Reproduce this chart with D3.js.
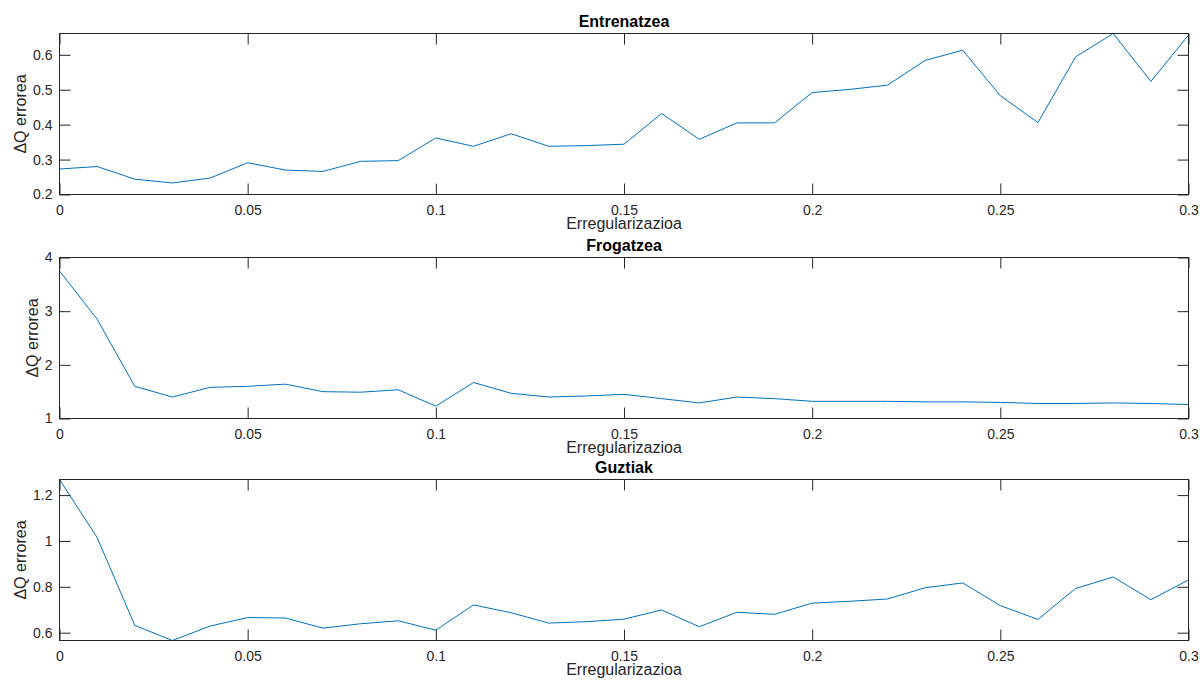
<!DOCTYPE html>
<html>
<head>
<meta charset="utf-8">
<script src="https://cdn.jsdelivr.net/npm/d3@7"></script>
<style>
  body { margin: 0; background: #fff; }
  svg { display: block; }
  .tick text { font-family: "Liberation Sans", Arial, sans-serif; font-size: 14px; fill: #262626; }
  .title { font-family: "Liberation Sans", Arial, sans-serif; font-size: 16px; font-weight: bold; fill: #000; }
  .axis-label { font-family: "Liberation Sans", Arial, sans-serif; font-size: 16px; fill: #262626; }
</style>
</head>
<body>
<svg id="chart" width="1200" height="680"></svg>
<script>
// Regularisation values (x axis)
const lambdas = d3.range(0, 31).map(i => i / 100);

// Series values
const trainErr = [0.273, 0.280, 0.244, 0.233, 0.247, 0.291, 0.270, 0.266, 0.295, 0.297,
  0.362, 0.338, 0.374, 0.338, 0.340, 0.344, 0.432, 0.358, 0.405, 0.405,
  0.492, 0.501, 0.513, 0.584, 0.613, 0.483, 0.406, 0.594, 0.661, 0.524, 0.656];

const testErr = [3.75, 2.85, 1.60, 1.40, 1.58, 1.60, 1.64, 1.50, 1.49, 1.535,
  1.23, 1.67, 1.47, 1.40, 1.42, 1.45, 1.37, 1.29, 1.40, 1.37,
  1.32, 1.32, 1.32, 1.31, 1.31, 1.30, 1.28, 1.28, 1.29, 1.28, 1.26];

const allErr = [1.268, 1.015, 0.632, 0.566, 0.629, 0.666, 0.664, 0.620, 0.639, 0.652,
  0.611, 0.721, 0.687, 0.642, 0.648, 0.659, 0.699, 0.626, 0.689, 0.680,
  0.729, 0.737, 0.747, 0.796, 0.817, 0.718, 0.658, 0.793, 0.843, 0.744, 0.830];

const titles = ['Entrenatzea', 'Frogatzea', 'Guztiak'];
const xTicks = [0, 0.05, 0.1, 0.15, 0.2, 0.25, 0.3];
const yTicks = [
  [0.2, 0.3, 0.4, 0.5, 0.6],
  [1, 2, 3, 4],
  [0.6, 0.8, 1, 1.2]
];
const yDomains = [
  [0.2, d3.max(trainErr)],
  [1, 4],
  [d3.min(allErr), d3.max(allErr)]
];

const CONFIG = {
  left: 59.5,
  right: 1188.5,
  tops: [33.5, 257.5, 479.5],
  height: 161,
  tickLen: 11,
  lineColor: '#0072BD',
  axisColor: '#262626'
};

const svg = d3.select('#chart');
const xScale = d3.scaleLinear().domain([0, 0.3]).range([CONFIG.left, CONFIG.right]);
const fmt = d => String(+d.toFixed(2));

[trainErr, testErr, allErr].forEach((series, i) => {
  const top = CONFIG.tops[i];
  const bottom = top + CONFIG.height;
  const yScale = d3.scaleLinear().domain(yDomains[i]).range([bottom, top]);
  const g = svg.append('g');

  // Data line (clipped to the box like MATLAB)
  const clipId = 'clip' + i;
  svg.append('clipPath').attr('id', clipId)
    .append('rect')
    .attr('x', CONFIG.left).attr('y', top - 1)
    .attr('width', CONFIG.right - CONFIG.left).attr('height', CONFIG.height + 2);

  const line = d3.line()
    .x((d, j) => xScale(lambdas[j]))
    .y(d => yScale(d));

  g.append('path')
    .datum(series)
    .attr('clip-path', `url(#${clipId})`)
    .attr('fill', 'none')
    .attr('stroke', CONFIG.lineColor)
    .attr('stroke-width', 1)
    .attr('d', line);

  // Bottom axis with labels, inward ticks
  const xAxis = g.append('g')
    .attr('transform', `translate(0,${bottom})`)
    .call(d3.axisBottom(xScale).tickValues(xTicks).tickFormat(fmt)
      .tickSizeInner(-CONFIG.tickLen).tickSizeOuter(0).tickPadding(11));
  // Top axis, ticks only
  const xTop = g.append('g')
    .attr('transform', `translate(0,${top})`)
    .call(d3.axisTop(xScale).tickValues(xTicks).tickFormat('')
      .tickSizeInner(-CONFIG.tickLen).tickSizeOuter(0));
  // Left axis with labels
  const yAxis = g.append('g')
    .attr('transform', `translate(${CONFIG.left},0)`)
    .call(d3.axisLeft(yScale).tickValues(yTicks[i]).tickFormat(fmt)
      .tickSizeInner(-CONFIG.tickLen).tickSizeOuter(0).tickPadding(7));
  // Right axis, ticks only
  const yRight = g.append('g')
    .attr('transform', `translate(${CONFIG.right},0)`)
    .call(d3.axisRight(yScale).tickValues(yTicks[i]).tickFormat('')
      .tickSizeInner(-CONFIG.tickLen).tickSizeOuter(0));

  [xAxis, xTop, yAxis, yRight].forEach(a => {
    a.select('.domain').remove();
    a.selectAll('line').attr('stroke', CONFIG.axisColor);
  });

  // Box
  g.append('rect')
    .attr('x', CONFIG.left).attr('y', top)
    .attr('width', CONFIG.right - CONFIG.left).attr('height', CONFIG.height)
    .attr('fill', 'none').attr('stroke', CONFIG.axisColor).attr('stroke-width', 1);

  // Title
  g.append('text')
    .attr('class', 'title')
    .attr('x', (CONFIG.left + CONFIG.right) / 2)
    .attr('y', top - 7)
    .attr('text-anchor', 'middle')
    .text(titles[i]);

  // X label
  g.append('text')
    .attr('class', 'axis-label')
    .attr('x', (CONFIG.left + CONFIG.right) / 2)
    .attr('y', bottom + 34)
    .attr('text-anchor', 'middle')
    .text('Erregularizazioa');

  // Y label, placed just left of the widest tick label
  const labelLeft = d3.min(yAxis.selectAll('text').nodes(), n => {
    const b = n.getBBox();
    return CONFIG.left - CONFIG.tickLen + b.x + 11;
  });
  const tickLeft = yAxis.node().getBBox().x + CONFIG.left;
  g.append('text')
    .attr('class', 'axis-label')
    .attr('transform', `translate(${tickLeft - 7},${(top + bottom) / 2}) rotate(-90)`)
    .attr('text-anchor', 'middle')
    .text('ΔQ errorea');
});
</script>
</body>
</html>
